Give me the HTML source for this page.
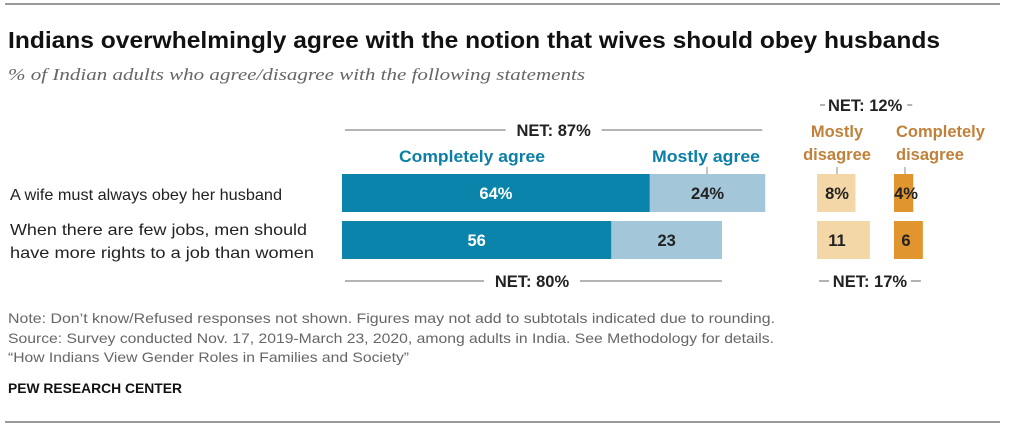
<!DOCTYPE html>
<html><head><meta charset="utf-8"><style>
body{margin:0;background:#fff;width:1023px;height:430px;overflow:hidden;font-family:"Liberation Sans",Arial,sans-serif}
</style></head><body>
<svg width="1023" height="430" xmlns="http://www.w3.org/2000/svg" font-family="Liberation Sans, Arial, sans-serif">
<line x1="5" y1="4" x2="1000" y2="4" stroke="#333" stroke-width="1"/>
<text x="8" y="48" font-size="23" font-weight="bold" fill="#111" textLength="932" lengthAdjust="spacingAndGlyphs">Indians overwhelmingly agree with the notion that wives should obey husbands</text>
<text x="8" y="80" font-size="17" font-style="italic" fill="#666" font-family="Liberation Serif, serif" textLength="577" lengthAdjust="spacingAndGlyphs">% of Indian adults who agree/disagree with the following statements</text>
<g id="bars"></g>
<text x="10" y="200" font-size="16" fill="#222" textLength="272" lengthAdjust="spacingAndGlyphs">A wife must always obey her husband</text>
<text x="10" y="235" font-size="16" fill="#222" textLength="297" lengthAdjust="spacingAndGlyphs">When there are few jobs, men should</text>
<text x="10" y="258" font-size="16" fill="#222" textLength="304" lengthAdjust="spacingAndGlyphs">have more rights to a job than women</text>
<text x="399" y="162" font-size="16.5" font-weight="bold" fill="#0b7fa8" textLength="146" lengthAdjust="spacingAndGlyphs">Completely agree</text>
<text x="652" y="162" font-size="16.5" font-weight="bold" fill="#0b7fa8" textLength="108" lengthAdjust="spacingAndGlyphs">Mostly agree</text>
<text x="837" y="137" font-size="16.5" font-weight="bold" fill="#c0813a" text-anchor="middle">Mostly</text>
<text x="837" y="160" font-size="16.5" font-weight="bold" fill="#c0813a" text-anchor="middle">disagree</text>
<text x="896" y="137" font-size="16.5" font-weight="bold" fill="#c0813a">Completely</text>
<text x="896" y="160" font-size="16.5" font-weight="bold" fill="#c0813a">disagree</text>
<line x1="707" y1="167" x2="707" y2="174" stroke="#888"/>
<line x1="837" y1="167" x2="837" y2="174" stroke="#888"/>
<line x1="905" y1="167" x2="905" y2="174" stroke="#888"/>
<g font-size="14" fill="#666">
<text x="8" y="323" textLength="767" lengthAdjust="spacingAndGlyphs">Note: Don’t know/Refused responses not shown. Figures may not add to subtotals indicated due to rounding.</text>
<text x="8" y="343" textLength="766" lengthAdjust="spacingAndGlyphs">Source: Survey conducted Nov. 17, 2019-March 23, 2020, among adults in India. See Methodology for details.</text>
<text x="8" y="362" textLength="401" lengthAdjust="spacingAndGlyphs">“How Indians View Gender Roles in Families and Society”</text>
</g>
<text x="8" y="393" font-size="13.5" font-weight="bold" fill="#111" textLength="174" lengthAdjust="spacingAndGlyphs">PEW RESEARCH CENTER</text>
<line x1="5" y1="422" x2="1000" y2="422" stroke="#333"/>
</svg>
<script>
const rows=["A wife must always obey her husband","When there are few jobs, men should have more rights to a job than women"];
const completelyAgree=[64,56];
const mostlyAgree=[24,23];
const mostlyDisagree=[8,11];
const completelyDisagree=[4,6];
const netAgree=[87,80];
const netDisagree=[12,17];
const agreeLabels=[["64%","24%"],["56","23"]];
const disLabels=[["8%","4%"],["11","6"]];
const NS="http://www.w3.org/2000/svg";
const g=document.getElementById('bars');
const sc=v=>v*4.81;
const x0=342,xd=817,xc=894;
const rowY=i=>174+i*47, H=38;
function rect(x,y,w,h,fill,name){const r=document.createElementNS(NS,'rect');r.setAttribute('x',x);r.setAttribute('y',y);r.setAttribute('width',w);r.setAttribute('height',h);r.setAttribute('fill',fill);


g.appendChild(r);}
function txt(x,y,s,fill,anchor,name,size,weight){const t=document.createElementNS(NS,'text');t.setAttribute('x',x);t.setAttribute('y',y);t.setAttribute('fill',fill);t.setAttribute('text-anchor',anchor);t.setAttribute('font-size',size||16.5);t.setAttribute('font-weight',weight||'bold');t.textContent=s;


g.appendChild(t);}
function line(x1,y,x2,name){const l=document.createElementNS(NS,'line');l.setAttribute('x1',x1);l.setAttribute('x2',x2);l.setAttribute('y1',y);l.setAttribute('y2',y);l.setAttribute('stroke','#888');l.setAttribute('stroke-width','1.3');


g.appendChild(l);}
rows.forEach((r,i)=>{
 const y=rowY(i);
 const w1=sc(completelyAgree[i]),w2=sc(mostlyAgree[i]);
 rect(x0,y,w1,H,'#0a84aa','bar-completely-agree');
 rect(x0+w1,y,w2,H,'#a3c6d8','bar-mostly-agree');
 txt(x0+w1/2,y+25,agreeLabels[i][0],'#fff','middle','value-label');
 txt(x0+w1+w2/2,y+25,agreeLabels[i][1],'#222','middle','value-label');
 const w3=sc(mostlyDisagree[i]),w4=sc(completelyDisagree[i]);
 rect(xd,y,w3,H,'#f4d7a6','bar-mostly-disagree');
 rect(xc,y,w4,H,'#e0952f','bar-completely-disagree');
 txt(xd+20,y+25,disLabels[i][0],'#222','middle','value-label');
 txt(xc+12,y+25,disLabels[i][1],'#222','middle','value-label');
});
const end0=x0+sc(completelyAgree[0]+mostlyAgree[0]);
const end1=x0+sc(completelyAgree[1]+mostlyAgree[1]);
const nx0=(x0+end0)/2;
line(x0+3,130,nx0-48,'net-line');line(nx0+48,130,end0-3,'net-line');
txt(nx0,136,'NET: '+netAgree[0]+'%','#222','middle','net-agree-label');
const nx1=(x0+end1)/2;
line(x0+3,281,nx1-48,'net-line');line(nx1+48,281,end1,'net-line');
txt(nx1,287,'NET: '+netAgree[1]+'%','#222','middle','net-agree-label');
const dEnd0=xc+sc(completelyDisagree[0]), dEnd1=xc+sc(completelyDisagree[1]);
const dx0=(xd+dEnd0)/2;
line(xd+3,105,xd+8,'net-line');line(dEnd0-6,105,dEnd0-1,'net-line');
txt(dx0,111,'NET: '+netDisagree[0]+'%','#222','middle','net-disagree-label');
const dx1=(xd+dEnd1)/2;
line(xd+2,281,xd+12,'net-line');line(dEnd1-12,281,dEnd1-2,'net-line');
txt(dx1,287,'NET: '+netDisagree[1]+'%','#222','middle','net-disagree-label');
</script>
</body></html>
